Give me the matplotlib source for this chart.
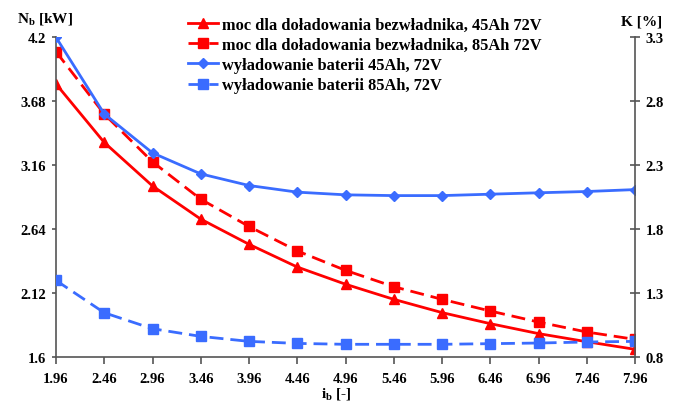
import matplotlib
matplotlib.use("Agg")
import matplotlib.pyplot as plt

plt.rcParams['font.family'] = ['Liberation Serif', 'DejaVu Serif']
plt.rcParams['font.weight'] = 'bold'
plt.rcParams['mathtext.fontset'] = 'custom'
plt.rcParams['mathtext.rm'] = 'Liberation Serif:bold'
plt.rcParams['mathtext.bf'] = 'Liberation Serif:bold'
plt.rcParams['mathtext.it'] = 'Liberation Serif:bold'

x_vals = [1.96, 2.46, 2.96, 3.46, 3.96, 4.46, 4.96, 5.46, 5.96, 6.46, 6.96, 7.46, 7.96]
x_ticklabels = ["1.96", "2.46", "2.96", "3.46", "3.96", "4.46", "4.96", "5.46", "5.96", "6.46", "6.96", "7.46", "7.96"]

moc_45 = [3.82, 3.344, 2.99, 2.72, 2.515, 2.33, 2.19, 2.067, 1.959, 1.869, 1.788, 1.722, 1.66]
moc_85 = [4.083, 3.575, 3.186, 2.882, 2.66, 2.461, 2.303, 2.17, 2.067, 1.972, 1.882, 1.801, 1.741]
wyl_45 = [3.30, 2.70, 2.395, 2.231, 2.14, 2.088, 2.067, 2.061, 2.061, 2.072, 2.083, 2.093, 2.108]
wyl_85 = [1.397, 1.144, 1.019, 0.959, 0.92, 0.904, 0.897, 0.897, 0.897, 0.902, 0.907, 0.915, 0.92]

left_ticks = [1.6, 2.12, 2.64, 3.16, 3.68, 4.2]
left_ticklabels = ["1.6", "2.12", "2.64", "3.16", "3.68", "4.2"]
right_ticks = [0.8, 1.3, 1.8, 2.3, 2.8, 3.3]
right_ticklabels = ["0.8", "1.3", "1.8", "2.3", "2.8", "3.3"]

labels = ["moc dla doładowania bezwładnika, 45Ah 72V",
          "moc dla doładowania bezwładnika, 85Ah 72V",
          "wyładowanie baterii 45Ah, 72V",
          "wyładowanie baterii 85Ah, 72V"]

RED = "#ff0000"
BLUE = "#3a6cff"

fig = plt.figure(figsize=(6.73, 4.06), dpi=100)
ax = fig.add_axes([56/673, 1 - 357.7/406, (635-56)/673, (357.7-38.3)/406])
ax2 = ax.twinx()

l1, = ax.plot(x_vals, moc_45, color=RED, lw=2, marker='^', ms=6.5, label=labels[0])
l2, = ax.plot(x_vals, moc_85, color=RED, lw=2, ls=(0, (5, 2.5)), marker='s', ms=7, label=labels[1])
l3, = ax2.plot(x_vals, wyl_45, color=BLUE, lw=2, marker='D', ms=5, label=labels[2])
l4, = ax2.plot(x_vals, wyl_85, color=BLUE, lw=2, ls=(0, (5, 2.5)), marker='s', ms=7, label=labels[3])

ax.set_xlim(1.96, 7.96)
ax.set_ylim(1.6, 4.2)
ax2.set_ylim(0.8, 3.3)

ax.set_xticks(x_vals)
ax.set_xticklabels(x_ticklabels)
ax.set_yticks(left_ticks)
ax.set_yticklabels(left_ticklabels)
ax2.set_yticks(right_ticks)
ax2.set_yticklabels(right_ticklabels)

spine_col = "#555555"
for a in (ax, ax2):
    a.spines['top'].set_visible(False)
    for s in ('left', 'right', 'bottom'):
        a.spines[s].set_color(spine_col)
        a.spines[s].set_linewidth(1.2)
    a.tick_params(colors='black', labelsize=10.5, width=1.2)
ax.tick_params(axis='x', direction='out', length=5, color=spine_col, pad=6)
ax.tick_params(axis='y', direction='out', length=3, color=spine_col, pad=4)
ax2.tick_params(axis='y', direction='inout', length=7, color=spine_col, pad=4)
ax.spines['right'].set_visible(False)
ax2.spines['left'].set_visible(False)
ax2.spines['bottom'].set_visible(False)

for lbl in ax.get_xticklabels() + ax.get_yticklabels() + ax2.get_yticklabels():
    lbl.set_fontweight('bold')

fig.text(45/673, 1 - 19/406, r"N$_\mathrm{b}$ [kW]", ha='center', va='center', fontsize=11, fontweight='bold')
fig.text(642/673, 1 - 22/406, "K [%]", ha='center', va='center', fontsize=11, fontweight='bold')
fig.text(336/673, 1 - 394/406, r"i$_\mathrm{b}$ [-]", ha='center', va='center', fontsize=11, fontweight='bold')

leg = fig.legend(handles=[l1, l2, l3, l4], loc='upper left',
                 bbox_to_anchor=(188/673, 1 - 18/406), frameon=False,
                 fontsize=11.8, handlelength=1.85, handletextpad=0.25,
                 labelspacing=0.25, borderaxespad=0, borderpad=0)
for t in leg.get_texts():
    t.set_fontweight('bold')

fig.savefig("out.png", dpi=100)
